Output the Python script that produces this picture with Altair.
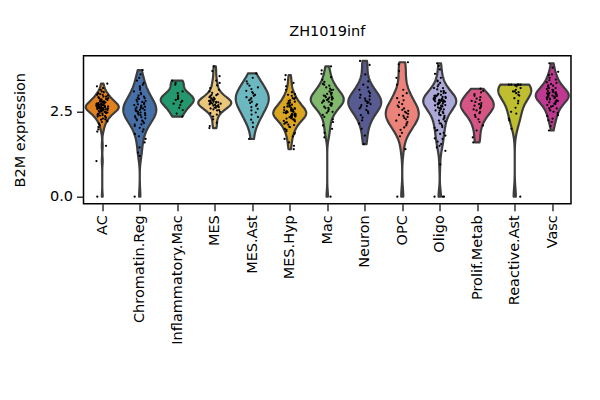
import altair as alt
import pandas as pd

categories = ["AC", "Chromatin.Reg", "Inflammatory.Mac", "MES", "MES.Ast", "MES.Hyp",
              "Mac", "Neuron", "OPC", "Oligo", "Prolif.Metab", "Reactive.Ast", "Vasc"]
colors = ["#e2801e", "#4670a8", "#23986e", "#ebc77c", "#6cb8c0", "#dba520",
          "#80b86d", "#575b92", "#ec837a", "#aca8d8", "#d65585", "#bfbe2e", "#c03891"]

AC = [3.33, 3.25, 3.2, 3.15, 3.1, 3.08, 3.05, 3.02, 3.0, 2.98, 2.95, 2.93, 2.9, 2.88, 2.86, 2.85,
      2.83, 2.81, 2.8, 2.78, 2.77, 2.75, 2.74, 2.72, 2.71, 2.7, 2.69, 2.68, 2.67, 2.66, 2.65, 2.64,
      2.63, 2.62, 2.61, 2.6, 2.59, 2.58, 2.57, 2.56, 2.55, 2.54, 2.52, 2.5, 2.49, 2.47, 2.45, 2.43,
      2.41, 2.39, 2.36, 2.33, 2.3, 2.27, 2.24, 2.2, 2.15, 2.1, 2.05, 1.98, 1.92, 1.5, 1.05, 0.0,
      3.0, 2.95, 2.9, 2.87, 2.84, 2.82, 2.79, 2.76, 2.74, 2.72, 2.7, 2.69, 2.68, 2.66, 2.65, 2.64,
      2.62, 2.61, 2.6, 2.58, 2.57, 2.55, 2.53, 2.51, 2.48, 2.46, 2.44, 2.4, 2.37, 2.33, 2.28, 2.22]
CHROMATIN_REG = [3.73, 3.6, 3.5, 3.42, 3.35, 3.3, 3.25, 3.2, 3.15, 3.1, 3.06, 3.02, 2.98, 2.95, 2.92,
                 2.88, 2.85, 2.82, 2.79, 2.76, 2.73, 2.7, 2.68, 2.65, 2.63, 2.6, 2.58, 2.55, 2.53, 2.5,
                 2.48, 2.45, 2.42, 2.4, 2.37, 2.34, 2.31, 2.28, 2.25, 2.21, 2.17, 2.13, 2.08, 2.03,
                 1.98, 1.92, 1.85, 1.78, 1.7, 1.6, 1.45, 1.3, 1.2, 0.0,
                 2.9, 2.8, 2.72, 2.66, 2.61, 2.56, 2.51, 2.46, 2.4, 2.33, 2.24, 2.12]
INFLAMMATORY_MAC = [3.42, 3.35, 3.3, 3.1, 3.05, 2.98, 2.94, 2.9, 2.88, 2.85, 2.82, 2.78, 2.74, 2.7,
                    2.62, 2.55, 2.45, 2.36]
MES = [3.84, 3.7, 3.55, 3.42, 3.35, 3.28, 3.2, 3.15, 3.1, 3.06, 3.02, 2.99, 2.96, 2.93, 2.9, 2.88,
       2.86, 2.84, 2.82, 2.8, 2.79, 2.78, 2.77, 2.76, 2.75, 2.74, 2.72, 2.7, 2.68, 2.66, 2.64, 2.62,
       2.6, 2.57, 2.54, 2.5, 2.46, 2.42, 2.36, 2.28, 2.18, 2.08, 2.02,
       3.0, 2.92, 2.87, 2.83, 2.8, 2.77, 2.74, 2.71, 2.67, 2.62, 2.55]
MES_AST = [3.63, 3.5, 3.4, 3.33, 3.27, 3.22, 3.17, 3.12, 3.08, 3.04, 3.0, 2.97, 2.93, 2.9, 2.87, 2.84,
           2.8, 2.76, 2.72, 2.68, 2.64, 2.59, 2.54, 2.48, 2.42, 2.35, 2.27, 2.18, 2.05, 1.7]
MES_HYP = [3.58, 3.45, 3.35, 3.25, 3.15, 3.08, 3.02, 2.97, 2.92, 2.88, 2.84, 2.8, 2.77, 2.74, 2.71,
           2.68, 2.65, 2.63, 2.61, 2.59, 2.57, 2.55, 2.53, 2.51, 2.5, 2.49, 2.47, 2.45, 2.43, 2.41,
           2.39, 2.37, 2.35, 2.33, 2.3, 2.28, 2.25, 2.22, 2.19, 2.15, 2.11, 2.06, 2.0, 1.93, 1.85,
           1.78, 1.7, 1.6, 1.5, 1.4,
           3.0, 2.9, 2.82, 2.76, 2.7, 2.66, 2.62, 2.58, 2.55, 2.52, 2.5, 2.48, 2.46, 2.44, 2.42,
           2.4, 2.38, 2.36, 2.34, 2.31, 2.27, 2.23, 2.18, 2.12, 2.05, 1.97, 1.88]
MAC = [3.84, 3.72, 3.62, 3.52, 3.45, 3.38, 3.32, 3.27, 3.22, 3.18, 3.14, 3.1, 3.06, 3.03, 3.0, 2.97,
       2.94, 2.92, 2.9, 2.88, 2.86, 2.84, 2.82, 2.8, 2.77, 2.74, 2.71, 2.68, 2.65, 2.61, 2.57, 2.52,
       2.47, 2.41, 2.35, 2.28, 2.2, 2.1, 2.0, 1.88, 1.75, 0.0,
       3.3, 3.15, 3.05, 2.98, 2.93, 2.89, 2.85, 2.81, 2.76, 2.7, 2.62, 2.5]
NEURON = [4.0, 3.88, 3.6, 3.4, 3.3, 3.22, 3.15, 3.1, 3.05, 3.0, 2.96, 2.92, 2.89, 2.86, 2.83, 2.8,
          2.78, 2.76, 2.73, 2.7, 2.67, 2.64, 2.6, 2.56, 2.51, 2.46, 2.4, 2.33, 2.25, 2.15, 2.0, 1.8, 1.55]
OPC = [3.96, 3.9, 3.7, 3.5, 3.3, 3.15, 3.05, 2.97, 2.9, 2.84, 2.78, 2.73, 2.68, 2.64, 2.6, 2.56,
       2.53, 2.5, 2.47, 2.44, 2.41, 2.38, 2.35, 2.32, 2.28, 2.24, 2.2, 2.15, 2.1, 2.04, 1.97, 1.88,
       1.78, 1.4, 0.0]
OLIGO = [3.93, 3.85, 3.75, 3.62, 3.5, 3.42, 3.35, 3.3, 3.25, 3.2, 3.16, 3.12, 3.09, 3.06, 3.03, 3.0,
         2.98, 2.96, 2.94, 2.92, 2.9, 2.88, 2.86, 2.85, 2.84, 2.83, 2.82, 2.81, 2.8, 2.78, 2.76, 2.74,
         2.72, 2.7, 2.68, 2.66, 2.63, 2.6, 2.57, 2.54, 2.5, 2.46, 2.42, 2.38, 2.33, 2.28, 2.22, 2.16,
         2.1, 2.03, 1.96, 1.88, 1.8, 1.72, 1.62, 1.5, 1.35, 0.95, 0.0, 0.0, 0.0,
         3.4, 3.2, 3.1, 3.05, 3.0, 2.97, 2.94, 2.91, 2.89, 2.87, 2.85, 2.83, 2.81, 2.79, 2.77, 2.75,
         2.72, 2.69, 2.66, 2.62, 2.58, 2.53, 2.47, 2.4, 2.32, 2.24, 2.15, 2.05, 1.95, 1.85, 1.7,
         1.55, 1.45]
PROLIF_METAB = [3.18, 3.12, 3.07, 3.02, 2.97, 2.93, 2.89, 2.85, 2.82, 2.79, 2.76, 2.73, 2.7, 2.68,
                2.66, 2.63, 2.6, 2.57, 2.54, 2.5, 2.46, 2.41, 2.35, 2.28, 2.2, 2.1, 1.95, 1.75, 1.6]
REACTIVE_AST = [3.3, 3.3, 3.3, 3.3, 3.3, 3.28, 3.25, 3.2, 3.15, 3.1, 3.1, 3.08, 3.05, 3.0, 2.98,
                2.9, 2.82, 2.75, 2.62, 2.5, 2.45, 2.3, 2.25, 2.0, 0.0]
VASC = [3.93, 3.8, 3.68, 3.58, 3.5, 3.43, 3.37, 3.32, 3.28, 3.24, 3.2, 3.17, 3.14, 3.11, 3.08, 3.06,
        3.04, 3.02, 3.0, 2.98, 2.96, 2.94, 2.92, 2.9, 2.87, 2.84, 2.81, 2.78, 2.74, 2.7, 2.65, 2.6,
        2.54, 2.47, 2.4, 2.3, 2.2, 2.08, 1.95,
        3.6, 3.45, 3.35, 3.27, 3.2, 3.15, 3.1, 3.07, 3.04, 3.01, 2.99, 2.97, 2.95, 2.92, 2.89,
        2.86, 2.82, 2.78, 2.73, 2.67, 2.6, 2.5, 2.38, 2.25]

series = [AC, CHROMATIN_REG, INFLAMMATORY_MAC, MES, MES_AST, MES_HYP, MAC, NEURON, OPC, OLIGO,
          PROLIF_METAB, REACTIVE_AST, VASC]

rows = []
for i, (cat, vals) in enumerate(zip(categories, series)):
    for v in vals:
        rows.append({"cat": cat, "idx": i, "value": v})
df = pd.DataFrame(rows)

FONT = "DejaVu Sans"
names_js = "[" + ",".join("'" + c + "'" for c in categories) + "]"

x_scale = alt.Scale(domain=[-0.5, 12.5], nice=False, zero=False)
y_scale = alt.Scale(domain=[-0.206, 4.153], nice=False, zero=False)
color_scale = alt.Scale(domain=categories, range=colors)

x_axis = alt.Axis(values=list(range(13)), labelExpr=names_js + "[datum.value]", labelAngle=-90,
                  title=None, grid=False, domain=False, tickColor="black", tickSize=7,
                  tickWidth=1.2, labelFont=FONT, labelFontSize=14.5, labelColor="black",
                  labelPadding=4)
y_axis = alt.Axis(values=[0, 2.5], format=".1f", title="B2M expression", grid=False, domain=False,
                  tickColor="black", tickSize=7, tickWidth=1.2, labelFont=FONT, labelFontSize=14.5,
                  labelColor="black", titleFont=FONT, titleFontSize=14.5, titleFontWeight="normal",
                  titleColor="black", labelPadding=4, titlePadding=22)

base = alt.Chart(df)

violins = base.transform_density(
    "value", groupby=["cat", "idx"], as_=["value", "density"], resolve="independent"
).transform_joinaggregate(
    maxd="max(density)", groupby=["cat"]
).transform_calculate(
    left="datum.idx - 0.44 * datum.density / datum.maxd",
    right="datum.idx + 0.44 * datum.density / datum.maxd",
).mark_area(orient="horizontal", stroke="#3d3d3d", strokeWidth=2.2, strokeJoin="round",
            opacity=1).encode(
    y=alt.Y("value:Q", scale=y_scale, axis=y_axis),
    x=alt.X("left:Q", scale=x_scale, axis=x_axis),
    x2="right:Q",
    fill=alt.Fill("cat:N", scale=color_scale, legend=None),
    detail="cat:N",
)

jit = "(sin(datum.rn * 12.9898 + datum.idx * 78.233) * 43758.5453)"
points = base.transform_window(
    rn="row_number()", groupby=["cat"]
).transform_calculate(
    xj="datum.idx + ((" + jit + " - floor(" + jit + ")) - 0.5) * 0.32"
).mark_circle(color="black", size=5, opacity=1).encode(
    x=alt.X("xj:Q", scale=x_scale, axis=x_axis),
    y=alt.Y("value:Q", scale=y_scale, axis=y_axis),
)

chart = alt.layer(violins, points).properties(
    width=487.5, height=148,
    title=alt.TitleParams("ZH1019inf", font=FONT, fontSize=14.5, fontWeight="normal",
                          color="black", anchor="middle", offset=16),
    autosize=alt.AutoSizeParams(type="none"),
    padding={"left": 75.5, "top": 47.7, "right": 20, "bottom": 180},
).configure_view(stroke="black", strokeWidth=1.5)

chart.save("out.html", embed_options={"renderer": "svg", "actions": False})
